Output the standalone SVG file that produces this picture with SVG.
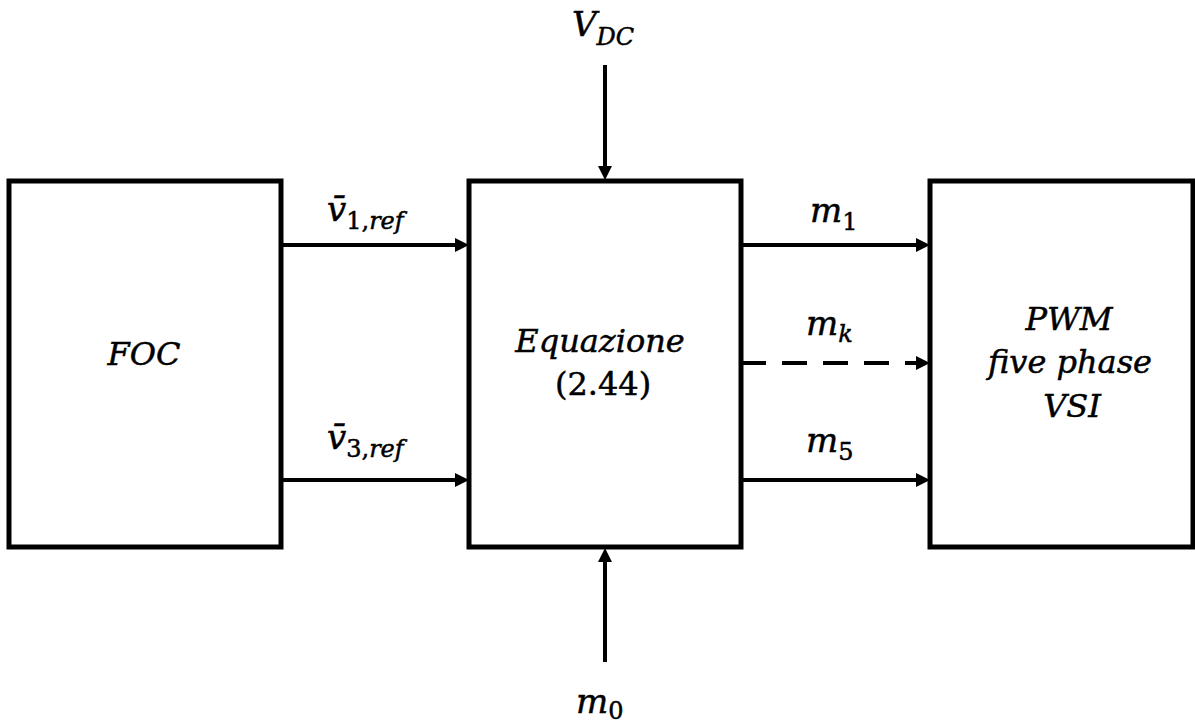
<svg xmlns="http://www.w3.org/2000/svg" width="1195" height="724" viewBox="0 0 1195 724">
<style>
.box{fill:#fff;stroke:#000;stroke-width:5}
.t{font-family:"DejaVu Serif","Liberation Serif",serif;font-style:italic;font-size:32px;fill:#000;stroke:#000;stroke-width:0.5}
.up{font-style:normal}
.lbl{font-family:"DejaVu Serif","Liberation Serif",serif;font-style:italic;font-size:34px;fill:#000;stroke:#000;stroke-width:0.5}
.sub{font-size:24px}
.c{stroke:#000;stroke-width:4;fill:none}
.dash{stroke-dasharray:25 16}
</style>
<defs>
<marker id="ah" markerUnits="userSpaceOnUse" markerWidth="14" markerHeight="14" refX="0" refY="7" orient="auto" overflow="visible">
<path d="M0,0 L14,7 L0,14 z" fill="#000"/>
</marker>
</defs>
<rect width="1195" height="724" fill="#fff"/>
<g id="connectors">
<line class="c" x1="281" y1="245" x2="455" y2="245" marker-end="url(#ah)"/>
<line class="c" x1="281" y1="480" x2="455" y2="480" marker-end="url(#ah)"/>
<line class="c" x1="741" y1="245" x2="916" y2="245" marker-end="url(#ah)"/>
<line class="c dash" x1="741" y1="363" x2="916" y2="363" marker-end="url(#ah)"/>
<line class="c" x1="741" y1="480" x2="916" y2="480" marker-end="url(#ah)"/>
<line class="c" x1="605" y1="65" x2="605" y2="166" marker-end="url(#ah)"/>
<line class="c" x1="605" y1="662" x2="605" y2="562" marker-end="url(#ah)"/>
</g>
<g id="foc">
<rect class="box" x="9" y="181" width="272" height="366"/>
<text class="t" x="144" y="365" text-anchor="middle">FOC</text>
</g>
<g id="equazione">
<rect class="box" x="469" y="181" width="272" height="366"/>
<text class="t" x="600" y="352" text-anchor="middle">Equazione</text>
<text class="t up" x="603" y="395" text-anchor="middle">(2.44)</text>
</g>
<g id="pwm">
<rect class="box" x="930" y="181" width="263" height="366"/>
<text class="t" x="1069" y="330" text-anchor="middle">PWM</text>
<text class="t" x="1070" y="373" text-anchor="middle">five phase</text>
<text class="t" x="1072" y="417" text-anchor="middle">VSI</text>
</g>
<g id="labels">
<text class="lbl" x="327" y="221">v̄<tspan class="sub up" dy="8">1,</tspan><tspan class="sub">ref</tspan></text>
<text class="lbl" x="327" y="449">v̄<tspan class="sub up" dy="8">3,</tspan><tspan class="sub">ref</tspan></text>
<text class="lbl" x="572" y="36">V<tspan class="sub" dy="9">DC</tspan></text>
<text class="lbl" x="810" y="222">m<tspan class="sub up" dy="8">1</tspan></text>
<text class="lbl" x="806" y="335">m<tspan class="sub" dy="7">k</tspan></text>
<text class="lbl" x="806" y="452">m<tspan class="sub up" dy="8">5</tspan></text>
<text class="lbl" x="576" y="713">m<tspan class="sub up" dy="6">0</tspan></text>
</g>
</svg>
